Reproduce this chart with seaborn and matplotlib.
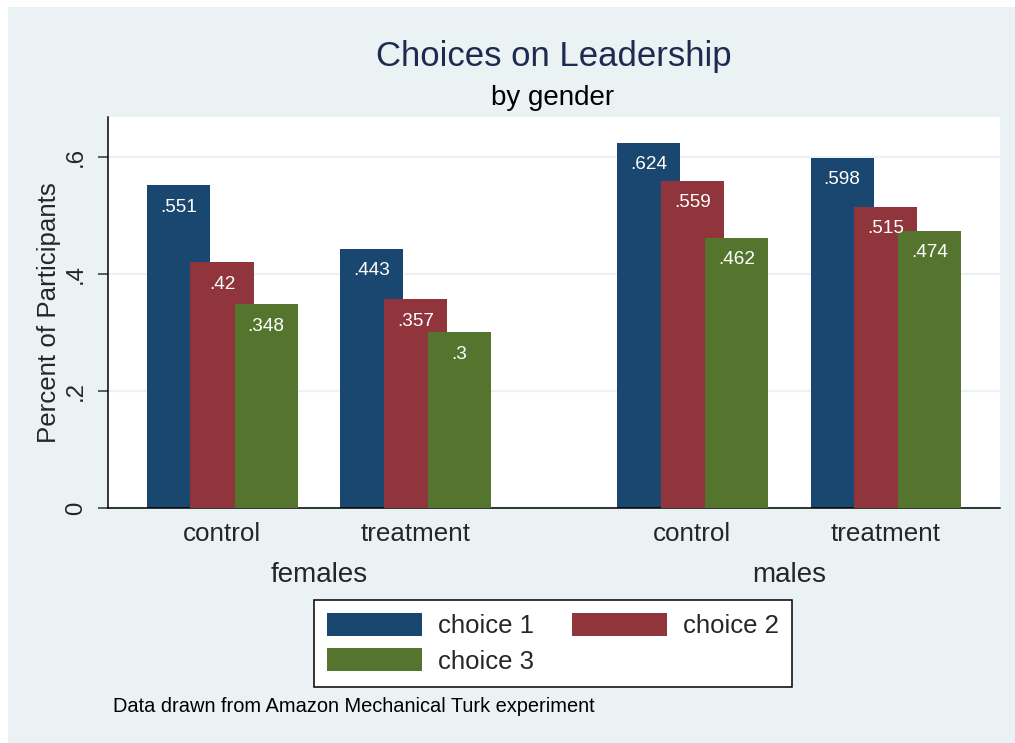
import numpy as np
import pandas as pd
import matplotlib
matplotlib.use("Agg")
import matplotlib.pyplot as plt
from matplotlib.patches import Rectangle
from matplotlib.transforms import blended_transform_factory
import seaborn as sns

# ---------------- data ----------------
genders = ["females", "females", "males", "males"]
conditions = ["control", "treatment", "control", "treatment"]
choice1 = [0.551, 0.443, 0.624, 0.598]
choice2 = [0.420, 0.357, 0.559, 0.515]
choice3 = [0.348, 0.300, 0.462, 0.474]
series_names = ["choice 1", "choice 2", "choice 3"]
y_ticks = [0, 0.2, 0.4, 0.6]
y_tick_labels = ["0", ".2", ".4", ".6"]

title = "Choices on Leadership"
subtitle = "by gender"
ylabel = "Percent of Participants"
note = "Data drawn from Amazon Mechanical Turk experiment"

# ---------------- style ----------------
colors = ["#1a476f", "#90353b", "#55752f"]
bg = "#eaf2f3"
W, H = 1015, 743

sns.set_theme(style="white")
plt.rcParams["font.family"] = ["Liberation Sans", "DejaVu Sans"]

fig = plt.figure(figsize=(W / 100, H / 100), dpi=100, facecolor="white")
fig.patches.append(Rectangle((8 / W, 0), 1 - 8 / W + 0.01, 1 - 7 / H, transform=fig.transFigure,
                             facecolor=bg, edgecolor="none", zorder=-10))
ax = fig.add_axes([108 / W, 1 - 508 / H, 892 / W, 391 / H])
ax.set_facecolor("white")

group_pos = np.array([0.0, 1.0, 2.43, 3.43])
offsets = [-0.226, 0.0, 0.228]
bar_w = 0.326

for i, (vals, name) in enumerate(zip([choice1, choice2, choice3], series_names)):
    d = pd.DataFrame({"pos": group_pos + offsets[i], "value": vals})
    sns.barplot(data=d, x="pos", y="value", native_scale=True, width=bar_w,
                color=colors[i], saturation=1, errorbar=None, ax=ax, label=name,
                zorder=2 + i, edgecolor="none", linewidth=0)


def fmt(v):
    s = f"{v:.3f}".rstrip("0").rstrip(".")
    return s.lstrip("0") if s != "0" else s


all_vals = choice1 + choice2 + choice3
bars = [p for p in ax.patches if isinstance(p, Rectangle)]
for rect, v in zip(bars, all_vals):
    ax.annotate(fmt(v), (rect.get_x() + rect.get_width() / 2, rect.get_height()),
                xytext=(0, -22 * 0.72), textcoords="offset points",
                ha="center", va="center", color="white", fontsize=13.7, zorder=10)

ax.set_xlim(-0.589, 4.02)
ax.set_ylim(0, 0.668)

ax.set_xticks(group_pos)
ax.set_xticklabels(conditions, fontsize=18.7)
ax.tick_params(axis="x", length=0, pad=10, bottom=False)

ax.set_yticks(y_ticks)
ax.set_yticklabels(y_tick_labels, fontsize=17.3, rotation=90, va="center", ha="right")
ax.tick_params(axis="y", left=True, length=7.2, width=1.1, color="#333333", pad=8)

ax.yaxis.grid(True, color=bg, linewidth=1.6)
ax.xaxis.grid(False)
ax.set_axisbelow(True)

for s in ["top", "right"]:
    ax.spines[s].set_visible(False)
for s in ["left", "bottom"]:
    ax.spines[s].set_color("black")
    ax.spines[s].set_linewidth(1.1)

ax.set_xlabel("")
ax.set_ylabel(ylabel, fontsize=18.6, labelpad=2.5)

trans = blended_transform_factory(ax.transData, ax.transAxes)
for g in dict.fromkeys(genders):
    xs = [p for p, gg in zip(group_pos, genders) if gg == g]
    ax.text(np.mean(xs), (508 - 575) / 391, g, transform=trans, ha="center",
            va="center", fontsize=20)

fig.text(554 / W, 1 - 66 / H, title, ha="center", va="baseline", fontsize=25,
         color="#1e2b50")
fig.text(553 / W, 1 - 105 / H, subtitle, ha="center", va="baseline", fontsize=20,
         color="black")

handles, labels = ax.get_legend_handles_labels()
order = [0, 2, 1]
leg = ax.legend([handles[k] for k in order], [labels[k] for k in order], ncol=2,
                loc="upper center", bbox_to_anchor=(553 / W, 1 - 600 / H),
                bbox_transform=fig.transFigure, fontsize=18.5, handlelength=3.7,
                handleheight=1.0, handletextpad=0.62, columnspacing=1.48,
                labelspacing=0.4, borderpad=0.5, borderaxespad=0, frameon=True,
                fancybox=False, edgecolor="black", framealpha=1, facecolor="white")
leg.get_frame().set_linewidth(1.1)

fig.text(113 / W, 1 - 706 / H, note, ha="left", va="center", fontsize=14.4,
         color="black")

fig.savefig("out.png", dpi=100)
